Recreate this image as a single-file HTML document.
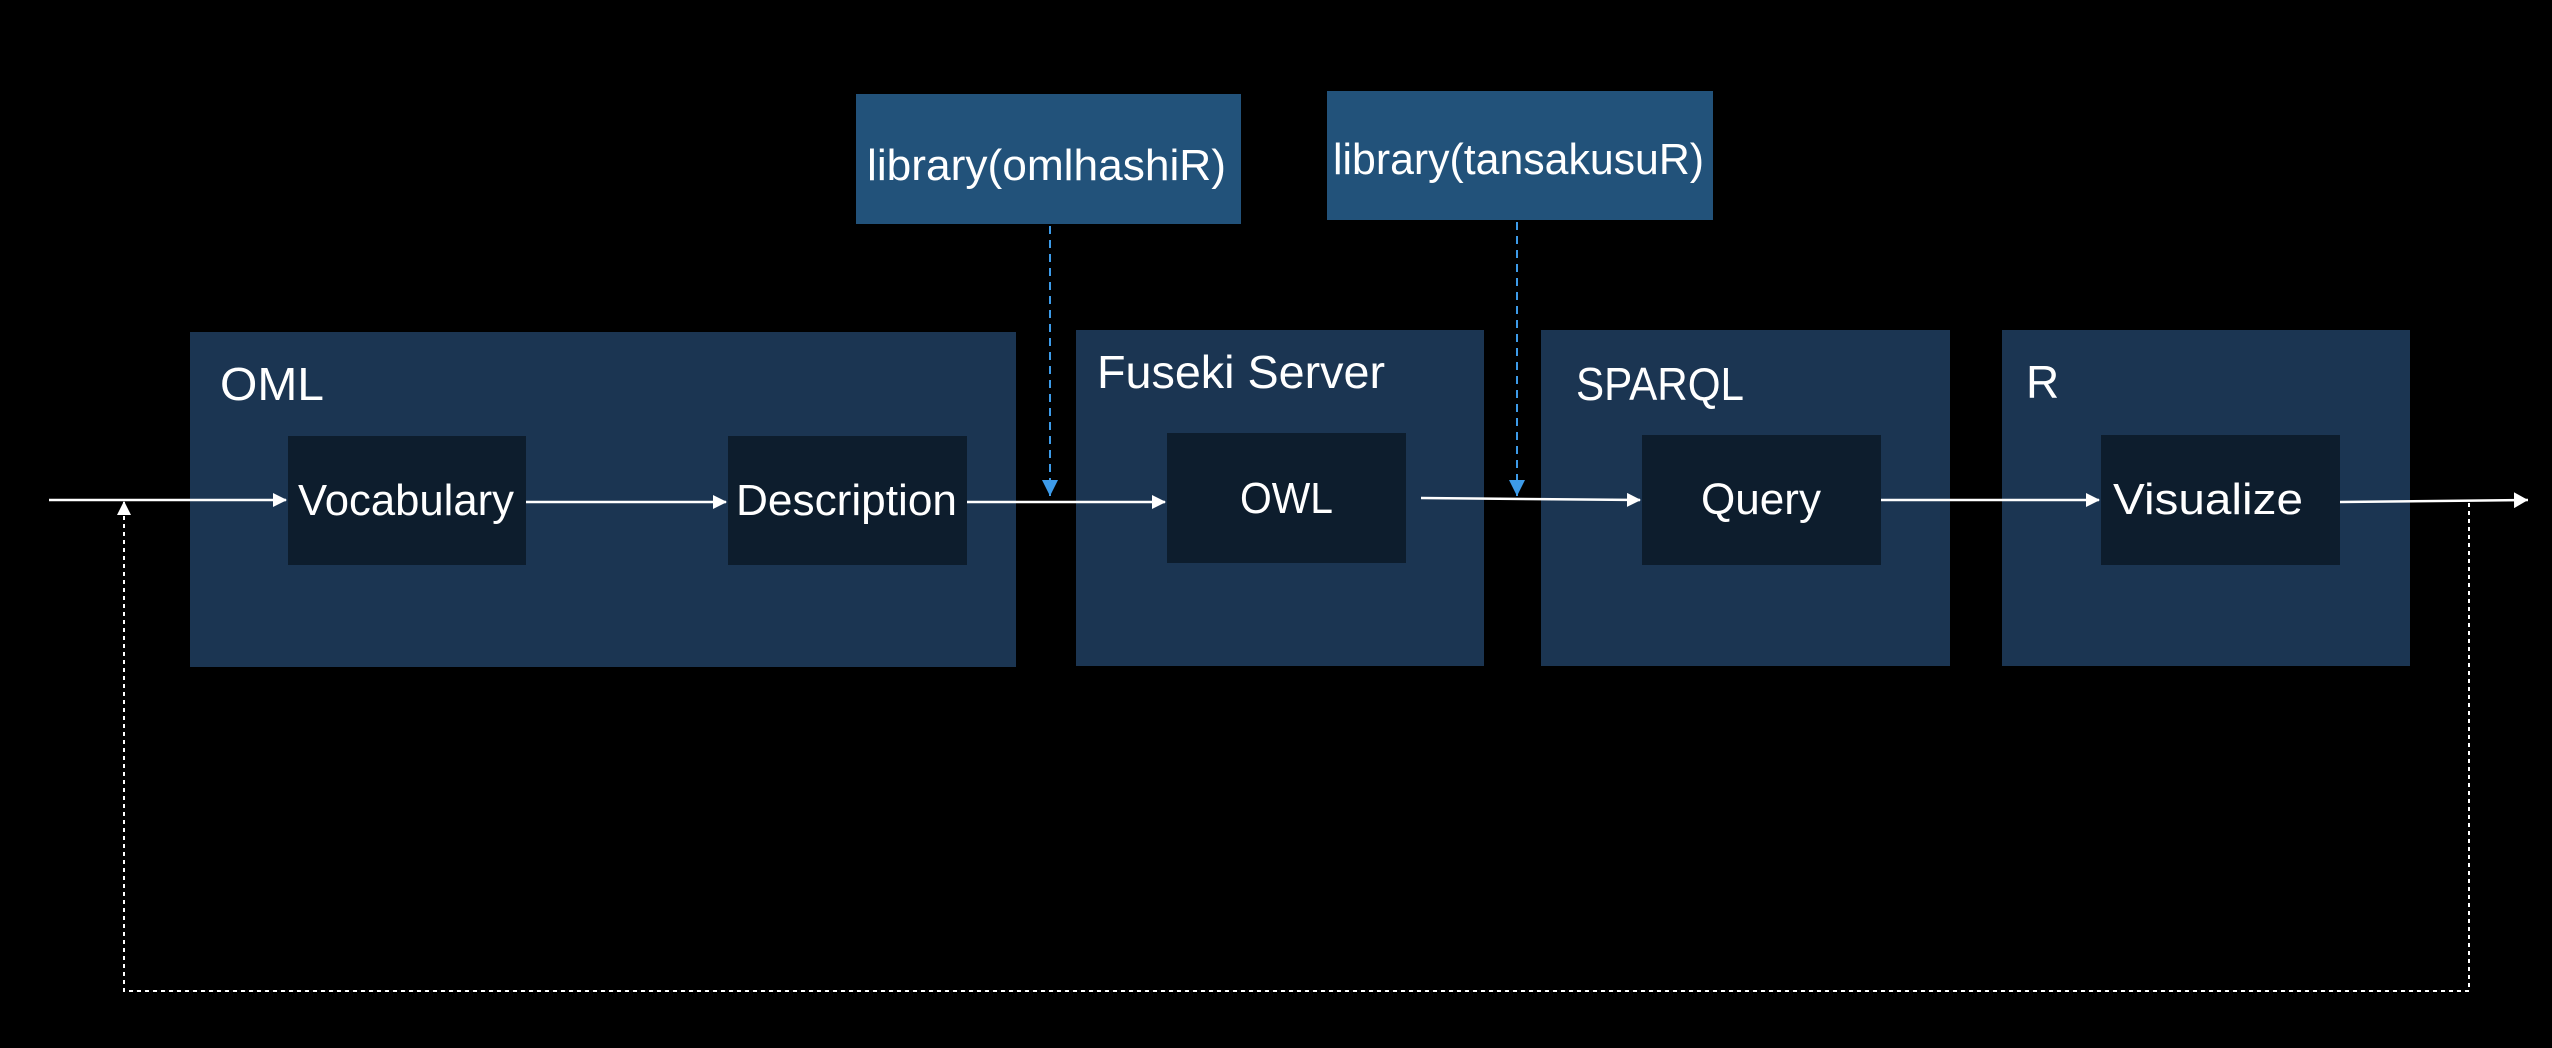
<!DOCTYPE html>
<html><head><meta charset="utf-8"><style>html,body{margin:0;padding:0;background:#000}svg{display:block}</style></head>
<body>
<svg width="2552" height="1048" xmlns="http://www.w3.org/2000/svg" font-family="Liberation Sans, sans-serif" fill="#fff">
<defs>
<marker id="a" markerWidth="14" markerHeight="14" refX="13" refY="7" orient="auto" markerUnits="userSpaceOnUse"><path d="M0,0 L14,7 L0,14 Z" fill="#fff"/></marker>
<marker id="w" markerWidth="14" markerHeight="16" refX="14" refY="8" orient="auto" markerUnits="userSpaceOnUse"><path d="M0,0 L14,8 L0,16 Z" fill="#fff"/></marker>
<marker id="b" markerWidth="16" markerHeight="20" refX="16" refY="8" orient="auto" markerUnits="userSpaceOnUse"><path d="M0,0 L16,8 L0,16 Z" fill="#3d9be9"/></marker>
</defs>
<rect width="2552" height="1048" fill="#000"/>
<rect x="190" y="332" width="826" height="335" fill="#1b3552"/>
<rect x="1076" y="330" width="408" height="336" fill="#1b3552"/>
<rect x="1541" y="330" width="409" height="336" fill="#1b3552"/>
<rect x="2002" y="330" width="408" height="336" fill="#1b3552"/>
<rect x="288" y="436" width="238" height="129" fill="#0d1d2d"/>
<rect x="728" y="436" width="239" height="129" fill="#0d1d2d"/>
<rect x="1167" y="433" width="239" height="130" fill="#0d1d2d"/>
<rect x="1642" y="435" width="239" height="130" fill="#0d1d2d"/>
<rect x="2101" y="435" width="239" height="130" fill="#0d1d2d"/>
<rect x="856" y="94" width="385" height="130" fill="#22527a"/>
<rect x="1327" y="91" width="386" height="129" fill="#22527a"/>
<text x="220" y="400" font-size="46" textLength="104" lengthAdjust="spacingAndGlyphs">OML</text>
<text x="1097" y="388" font-size="46" textLength="288" lengthAdjust="spacingAndGlyphs">Fuseki Server</text>
<text x="1576" y="400" font-size="46" textLength="168" lengthAdjust="spacingAndGlyphs">SPARQL</text>
<text x="2026" y="398" font-size="46">R</text>
<text x="298" y="515" font-size="44" textLength="216" lengthAdjust="spacingAndGlyphs">Vocabulary</text>
<text x="736" y="515" font-size="44" textLength="221" lengthAdjust="spacingAndGlyphs">Description</text>
<text x="1240" y="513" font-size="44" textLength="93" lengthAdjust="spacingAndGlyphs">OWL</text>
<text x="1701" y="514" font-size="44" textLength="120" lengthAdjust="spacingAndGlyphs">Query</text>
<text x="2113" y="514" font-size="44" textLength="190" lengthAdjust="spacingAndGlyphs">Visualize</text>
<text x="867" y="180" font-size="44" textLength="359" lengthAdjust="spacingAndGlyphs">library(omlhashiR)</text>
<text x="1333" y="174" font-size="44" textLength="371" lengthAdjust="spacingAndGlyphs">library(tansakusuR)</text>
<g stroke="#fff" stroke-width="2.5" fill="none">
<line x1="49" y1="500" x2="286" y2="500" marker-end="url(#a)"/>
<line x1="526" y1="502" x2="726" y2="502" marker-end="url(#a)"/>
<line x1="967" y1="502" x2="1165" y2="502" marker-end="url(#a)"/>
<line x1="1421" y1="498" x2="1640" y2="500" marker-end="url(#a)"/>
<line x1="1881" y1="500" x2="2099" y2="500" marker-end="url(#a)"/>
<line x1="2340" y1="502" x2="2528" y2="500" marker-end="url(#w)"/>
<polyline points="2469,503 2469,991 124,991 124,502" stroke-width="2" stroke-dasharray="4,4" marker-end="url(#a)"/>
</g>
<g stroke="#3d9be9" stroke-width="2" fill="none" stroke-dasharray="8,6">
<line x1="1050" y1="226" x2="1050" y2="496" marker-end="url(#b)"/>
<line x1="1517" y1="222" x2="1517" y2="496" marker-end="url(#b)"/>
</g>
</svg>
</body></html>
